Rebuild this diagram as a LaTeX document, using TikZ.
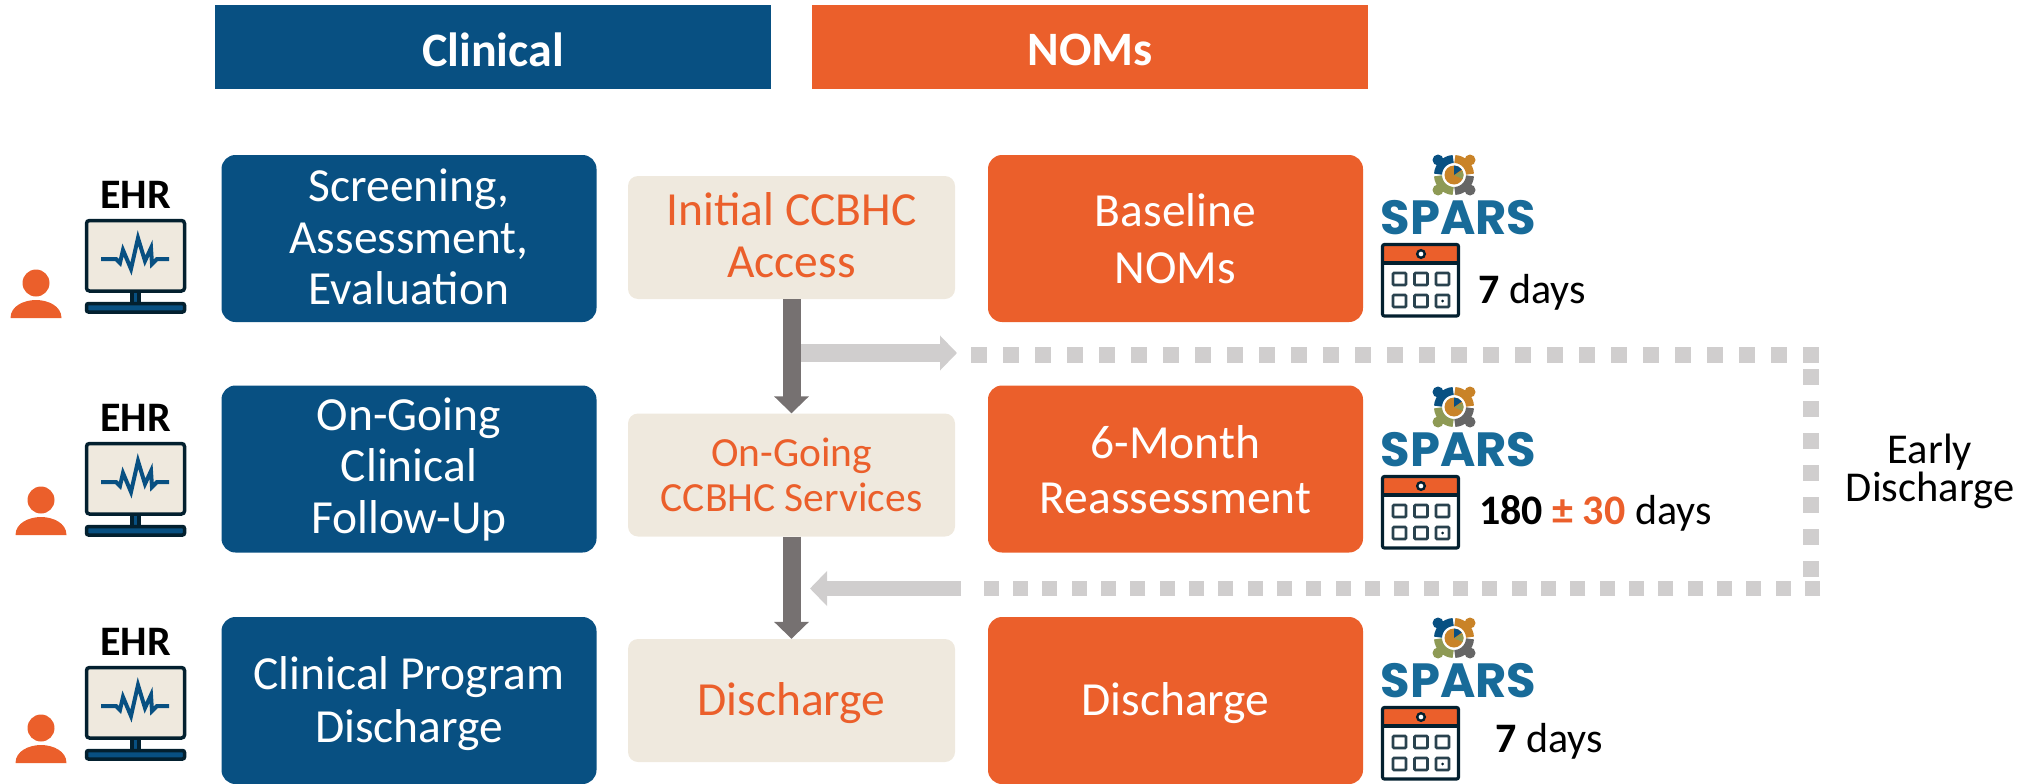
\documentclass[tikz,border=0pt]{standalone}
\usepackage{fontspec}
\setmainfont{Carlito}
\newfontfamily\sparsfont{Poppins}
\usetikzlibrary{arrows.meta}
\definecolor{cblue}{HTML}{085082}
\definecolor{corange}{HTML}{EB5F2B}
\definecolor{cbeige}{HTML}{EFE9DE}
\definecolor{cdark}{HTML}{767171}
\definecolor{cgrey}{HTML}{D0CECE}
\definecolor{cink}{HTML}{03202F}
\definecolor{cspars}{HTML}{186B99}
\definecolor{colive}{HTML}{8E9A55}
\definecolor{cochre}{HTML}{C98328}
\definecolor{cslate}{HTML}{666666}
\newcommand{\fs}[2]{\fontsize{#1}{#2}\selectfont}
\newcommand{\nudge}[2]{\raisebox{#1}[\height][\depth]{#2}}
\tikzset{
  x=1pt,y=-1pt,
  header/.style={minimum width=556pt,minimum height=83pt,inner sep=0pt,text=white,font=\fs{48}{52}\bfseries},
  stage/.style={minimum width=375pt,minimum height=167pt,rounded corners=14pt,inner sep=0pt,text=white,align=center,font=\fs{47.5}{52}},
  centrebox/.style={minimum width=327pt,minimum height=123pt,rounded corners=10pt,inner sep=0pt,fill=cbeige,text=corange,align=center,font=\fs{47.5}{52}},
  flowarrow/.style={draw=cdark,line width=18pt,-{Triangle[width=34pt,length=17pt]}},
  sidearrow/.style={draw=cgrey,line width=18pt,-{Triangle[width=34pt,length=17pt]}},
  dotted path/.style={draw=cgrey,line width=16pt,dash pattern=on 16pt off 16pt},
  dotted low/.style={draw=cgrey,line width=15pt,dash pattern=on 15pt off 14.33pt},
  dayslabel/.style={anchor=base west,inner sep=0pt,font=\fs{42}{50}},
  ehr/.pic={
    \node[font=\fs{42}{50}\bfseries,inner sep=0pt] (-label) at (50.5,-24) {EHR};
    \draw[cink,line width=3.5pt,fill=cblue] (47,70) rectangle (54,86);
    \draw[cink,line width=3.5pt,fill=cbeige,rounded corners=3pt] (1.5,1.5) rectangle (99.5,72);
    \draw[cink,line width=3.5pt,fill=cblue,rounded corners=2pt] (1.5,84.5) rectangle (99.5,93);
    \draw[cblue,line width=4pt,line join=miter] (16,40) -- (31,40) -- (35,44) -- (38,31) -- (46,50) -- (53,19) -- (60,42) -- (66,29) -- (67,45) -- (72,40) -- (84,40);
  },
  person/.pic={
    \fill[corange] (0,0) circle (13.5);
    \fill[corange] (-25.5,35) .. controls (-25.5,23) and (-12,17) .. (0,17) .. controls (12,17) and (25.5,23) .. (25.5,35) -- cycle;
  },
  spars/.pic={
    \draw[cblue,line width=8pt] (183:16) arc[start angle=183,end angle=267,radius=16];
    \draw[cochre,line width=8pt] (273:16) arc[start angle=273,end angle=357,radius=16];
    \draw[cslate,line width=8pt] (3:16) arc[start angle=3,end angle=87,radius=16];
    \draw[colive,line width=8pt] (93:16) arc[start angle=93,end angle=177,radius=16];
    \fill[cblue] (-16,-15) circle (5.5);
    \fill[cochre] (16,-15) circle (5.5);
    \fill[colive] (-16,15) circle (5.5);
    \fill[cslate] (16,15) circle (5.5);
    \fill[cochre] (0,0) circle (9.5);
    \fill[cblue] (0,0) -- (0,-9.5) arc[start angle=270,end angle=325,radius=9.5] -- cycle;
    \fill[colive] (0.6,0.3) -- (335:9.5) arc[start angle=335,end angle=385,radius=9.5] -- cycle;
    \node[font=\fs{48}{58}\sparsfont\bfseries,text=cspars,inner sep=0pt] (-word) at (4.5,43) {SPARS};
  },
  calendar/.pic={
    \fill[corange] (1.5,1.5) rectangle (77.5,20);
    \draw[cink,line width=3.2pt,rounded corners=2pt] (1.5,1.5) rectangle (77.5,73);
    \draw[cink,line width=3.2pt] (1.5,20) -- (77.5,20);
    \draw[cink,line width=2.4pt,fill=white] (40,11) circle (3.8);
    \foreach \cx in {12,33.5,55} \foreach \cy in {30,52}
      \draw[cink!85,line width=2.6pt,rounded corners=1pt] (\cx,\cy) rectangle +(13,12);
    \fill[cink] (61.5,58) circle (1.5);
  }
}
\begin{document}
\begin{tikzpicture}
\useasboundingbox (0,0) rectangle (2021,784);
% headers
\node[header,fill=cblue] (clinical) at (493,47) {\nudge{-2.5pt}{Clinical}};
\node[header,fill=corange] (noms) at (1090,47) {\nudge{-2.5pt}{NOMs}};
% clinical stages
\node[stage,fill=cblue] (screen) at (409,238.5) {\nudge{1.5pt}{Screening,}\\\nudge{1.5pt}{Assessment,}\\\nudge{2pt}{Evaluation}};
\node[stage,fill=cblue] (followup) at (409,469) {\nudge{-1pt}{On-Going}\\Clinical\\Follow-Up};
\node[stage,fill=cblue] (clindis) at (409,700.5) {\nudge{-2.5pt}{Clinical Program}\\\nudge{-3.5pt}{Discharge}};
% centre stages
\node[centrebox] (initial) at (791.5,237.5) {\nudge{2.5pt}{Initial CCBHC}\\\nudge{2.5pt}{Access}};
\node[centrebox,font=\fs{41.5}{46}] (ongoing) at (791.5,475) {On-Going\\\nudge{1pt}{CCBHC Services}};
\node[centrebox] (discharge) at (791.5,700.5) {\nudge{-2.5pt}{Discharge}};
% NOMs stages
\node[stage,fill=corange] (baseline) at (1175.5,238.5) {\nudge{2.5pt}{Baseline}\\\nudge{-2.5pt}{NOMs}};
\node[stage,fill=corange] (reassess) at (1175.5,469) {\nudge{1pt}{6-Month}\\\nudge{-2.5pt}{Reassessment}};
\node[stage,fill=corange] (nomdis) at (1175.5,700.5) {\nudge{-3pt}{Discharge}};
% connectors
\draw[flowarrow] (initial.south) -- (ongoing.north);
\draw[flowarrow] (ongoing.south) -- (discharge.north);
\coordinate (outstart) at (801,353);
\coordinate (outend) at (957,353);
\coordinate (dotstart) at (971,355);
\coordinate (dotright) at (1819,355);
\coordinate (dotdown) at (1811,369);
\coordinate (dotdownend) at (1811,577);
\coordinate (dotlow) at (1820,588.5);
\coordinate (dotend) at (983.5,588.5);
\coordinate (backstart) at (961,588.5);
\coordinate (backend) at (810,588.5);
\draw[sidearrow] (outstart) -- (outend);
\draw[dotted path] (dotstart) -- (dotright);
\draw[dotted path] (dotdown) -- (dotdownend);
\draw[dotted low] (dotlow) -- (dotend);
\draw[sidearrow,line width=15pt,-{Triangle[width=34pt,length=17pt]}] (backstart) -- (backend);
\node[font=\fs{42.5}{36},align=center,inner sep=0pt] (early) at (1930,471.5) {Early\\Discharge};
% EHR icons
\pic (ehra) at (85,219) {ehr};
\pic (ehrb) at (85,442) {ehr};
\pic (ehrc) at (85,666) {ehr};
\pic (usera) at (36,283) {person};
\pic (userb) at (41,500) {person};
\pic (userc) at (41,728) {person};
% SPARS + calendars
\pic (sparsa) at (1454,175) {spars};
\pic (sparsb) at (1454,407) {spars};
\pic (sparsc) at (1454,638) {spars};
\pic (cala) at (1381,243) {calendar};
\pic (calb) at (1381,475) {calendar};
\pic (calc) at (1381,706) {calendar};
\node[dayslabel] (daysa) at (1478,303) {\textbf{7} days};
\node[dayslabel] (daysb) at (1479,524) {\textbf{180 \textcolor{corange}{± 30}} days};
\node[dayslabel] (daysc) at (1495,752) {\textbf{7} days};
\end{tikzpicture}
\end{document}
